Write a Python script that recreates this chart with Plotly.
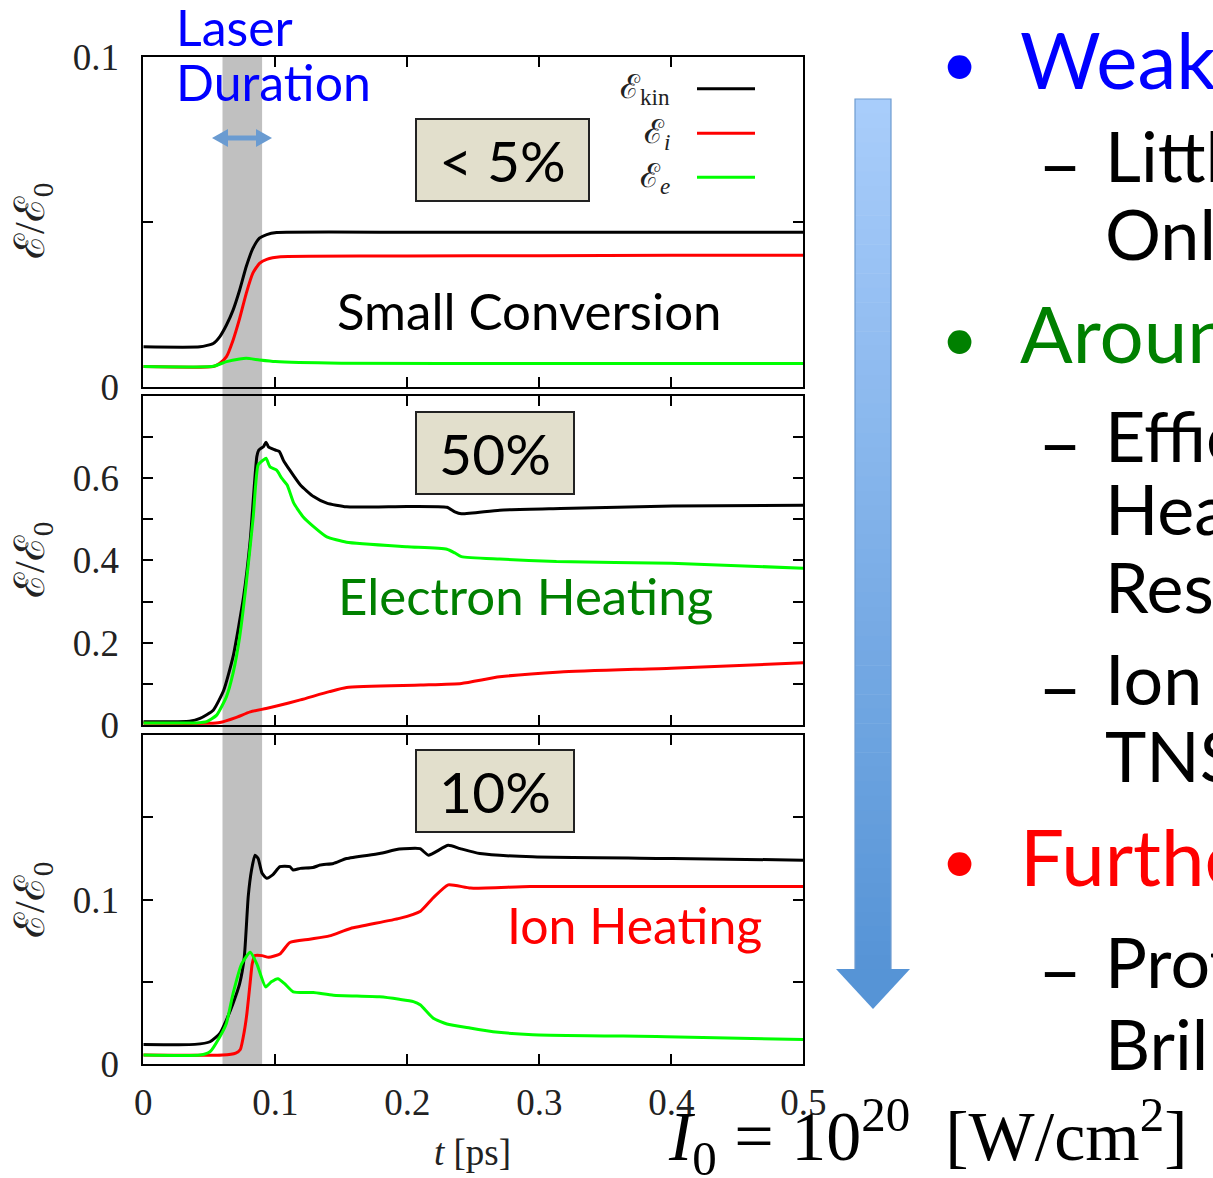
import plotly.graph_objects as go

W, H = 1213, 1178

# ---------------- data ----------------
x_ticks = [0, 0.1, 0.2, 0.3, 0.4, 0.5]
x_ticktext = ["0", "0.1", "0.2", "0.3", "0.4", "0.5"]
laser_window = [0.06, 0.09]

# top panel (weak, < 5%)
t_top_kin = [0, 0.043, 0.053, 0.058, 0.063, 0.068, 0.073, 0.078, 0.083, 0.088, 0.0935, 0.101, 0.2, 0.3, 0.4, 0.5]
top_kin = [0.0121, 0.0121, 0.0131, 0.0152, 0.0187, 0.0232, 0.0293, 0.0364, 0.0419, 0.0450, 0.0461, 0.0467, 0.0468, 0.0468, 0.0468, 0.0468]
t_top_i = [0, 0.053, 0.058, 0.063, 0.068, 0.073, 0.078, 0.083, 0.088, 0.0935, 0.104, 0.2, 0.3, 0.4, 0.5]
top_i = [0.0061, 0.0061, 0.0071, 0.0091, 0.0141, 0.0207, 0.0283, 0.0344, 0.0374, 0.0386, 0.0394, 0.0396, 0.0397, 0.0398, 0.0398]
t_top_e = [0, 0.053, 0.063, 0.073, 0.078, 0.088, 0.1, 0.15, 0.3, 0.5]
top_e = [0.0061, 0.0062, 0.0076, 0.0084, 0.0086, 0.0081, 0.0076, 0.0071, 0.0070, 0.0070]
top_yticks = [0, 0.1]
top_yticktext = ["0", "0.1"]
top_minor_dtick = 0.05

# middle panel (50%)
t_mid_kin = [0, 0.035, 0.043, 0.053, 0.061, 0.068, 0.076, 0.081, 0.086, 0.0875, 0.089, 0.091, 0.093, 0.095,
             0.097, 0.100, 0.103, 0.106, 0.111, 0.119, 0.129, 0.139, 0.154, 0.2, 0.23, 0.236, 0.241, 0.27,
             0.316, 0.401, 0.5]
mid_kin = [0.008, 0.009, 0.016, 0.036, 0.085, 0.166, 0.312, 0.449, 0.652, 0.668, 0.672, 0.676, 0.687, 0.675,
           0.672, 0.668, 0.665, 0.644, 0.619, 0.583, 0.555, 0.539, 0.530, 0.531, 0.529, 0.518, 0.513, 0.522,
           0.526, 0.532, 0.534]
t_mid_e = [0, 0.04, 0.048, 0.0556, 0.063, 0.068, 0.073, 0.078, 0.0833, 0.087, 0.091, 0.093, 0.096, 0.101,
           0.105, 0.109, 0.114, 0.121, 0.129, 0.139, 0.154, 0.2, 0.23, 0.236, 0.241, 0.27, 0.313, 0.4, 0.5]
mid_e = [0.005, 0.005, 0.008, 0.024, 0.069, 0.126, 0.214, 0.344, 0.506, 0.632, 0.644, 0.648, 0.627, 0.619,
         0.599, 0.583, 0.539, 0.506, 0.482, 0.457, 0.444, 0.433, 0.427, 0.418, 0.409, 0.403, 0.397, 0.393, 0.381]
t_mid_i = [0, 0.05, 0.058, 0.07, 0.081, 0.093, 0.101, 0.119, 0.141, 0.154, 0.21, 0.241, 0.27, 0.316, 0.4, 0.5]
mid_i = [0.004, 0.004, 0.006, 0.018, 0.032, 0.040, 0.046, 0.061, 0.081, 0.091, 0.097, 0.101, 0.117, 0.129, 0.138, 0.151]
mid_yticks = [0, 0.2, 0.4, 0.6]
mid_yticktext = ["0", "0.2", "0.4", "0.6"]
mid_minor_dtick = 0.1

# bottom panel (10%)
t_bot_kin = [0, 0.039, 0.0505, 0.058, 0.063, 0.068, 0.073, 0.0765, 0.0795, 0.082, 0.0846, 0.087, 0.09, 0.0935,
             0.098, 0.1035, 0.111, 0.1135, 0.119, 0.1285, 0.134, 0.144, 0.154, 0.179, 0.194, 0.2096, 0.216,
             0.231, 0.24, 0.255, 0.295, 0.401, 0.5]
bot_kin = [0.0121, 0.0121, 0.0137, 0.0188, 0.027, 0.037, 0.049, 0.065, 0.102, 0.118, 0.127, 0.125, 0.116, 0.113,
           0.115, 0.120, 0.120, 0.118, 0.119, 0.1195, 0.121, 0.122, 0.125, 0.128, 0.1307, 0.131, 0.127,
           0.133, 0.131, 0.128, 0.126, 0.125, 0.124]
t_bot_i = [0, 0.06, 0.07, 0.0735, 0.0765, 0.0785, 0.081, 0.0825, 0.0845, 0.09, 0.095, 0.1035, 0.111, 0.126,
           0.141, 0.157, 0.194, 0.21, 0.2195, 0.231, 0.248, 0.293, 0.4, 0.5]
bot_i = [0.0056, 0.0056, 0.0068, 0.009, 0.02, 0.031, 0.05, 0.061, 0.066, 0.066, 0.065, 0.067, 0.074, 0.076,
         0.078, 0.0825, 0.0886, 0.093, 0.101, 0.109, 0.107, 0.108, 0.108, 0.108]
t_bot_e = [0, 0.043, 0.0505, 0.058, 0.063, 0.068, 0.0745, 0.081, 0.086, 0.0927, 0.097, 0.102, 0.107, 0.1136,
           0.129, 0.144, 0.179, 0.194, 0.2046, 0.21, 0.2197, 0.23, 0.2475, 0.265, 0.295, 0.396, 0.5]
bot_e = [0.0056, 0.0056, 0.0076, 0.0168, 0.025, 0.043, 0.061, 0.068, 0.061, 0.047, 0.0501, 0.052, 0.049, 0.044,
         0.0436, 0.042, 0.041, 0.0395, 0.0381, 0.036, 0.028, 0.0245, 0.022, 0.0198, 0.018, 0.0168, 0.015]
bot_yticks = [0, 0.1]
bot_yticktext = ["0", "0.1"]
bot_minor_dtick = 0.05

series_names = ["ℰ<sub>kin</sub>", "ℰ<sub><i>i</i></sub>", "ℰ<sub><i>e</i></sub>"]
series_colors = ["#000000", "#ff0000", "#00ff00"]
panel_labels = ["< 5%", "50%", "10%"]
panel_notes = ["Small Conversion", "Electron Heating", "Ion Heating"]
panel_note_colors = ["#000000", "#008000", "#ff0000"]

bullets = [("Weak", "#0000ff"), ("Around", "#008000"), ("Further", "#ff0000")]
sub_items = [["Little", "Only"], ["Efficient", "Heating", "Rese"], ["Ion", "TNSA"], ["Proton", "Brillouin"]]

# ---------------- helpers ----------------
def PX(x):
    return x / W


def PY(y):
    return 1 - y / H


SANS = "Lato, 'Noto Sans', sans-serif"
SERIF = "'Liberation Serif', 'DejaVu Serif', serif"

fig = go.Figure()

panels = [
    ("x3", "y3", [(t_top_kin, top_kin), (t_top_i, top_i), (t_top_e, top_e)], [0, 0.1], top_yticks, top_yticktext,
     top_minor_dtick, [PY(386.7), PY(56.7)]),
    ("x2", "y2", [(t_mid_kin, mid_kin), (t_mid_i, mid_i), (t_mid_e, mid_e)], [0, 0.8], mid_yticks, mid_yticktext,
     mid_minor_dtick, [PY(725), PY(395.7)]),
    ("x", "y", [(t_bot_kin, bot_kin), (t_bot_i, bot_i), (t_bot_e, bot_e)], [0, 0.2], bot_yticks, bot_yticktext,
     bot_minor_dtick, [PY(1064.3), PY(735)]),
]

xdom = [PX(143.3), PX(803.3)]
tick_style = dict(ticks="inside", ticklen=10, tickwidth=1.5, tickcolor="black", showgrid=False)
axis_common = dict(showline=True, linecolor="black", linewidth=2, mirror="ticks", zeroline=False,
                   automargin=False, **tick_style)

shapes = []
for (xa, ya, series, yr, yt, ytt, mdt, ydom) in panels:
    for (tt, vv), name, col in zip(series, series_names, series_colors):
        fig.add_trace(go.Scatter(x=tt, y=vv, mode="lines", name=name, xaxis=xa, yaxis=ya, showlegend=False,
                                 line=dict(color=col, width=3, shape="spline", smoothing=0.5)))
    xkey = "xaxis" if xa == "x" else "xaxis" + xa[1:]
    ykey = "yaxis" if ya == "y" else "yaxis" + ya[1:]
    if xa == "x":
        fig.layout[xkey] = dict(axis_common, domain=xdom, anchor=ya, range=[0, 0.5], tickmode="array",
                                tickvals=x_ticks, ticktext=x_ticktext,
                                tickfont=dict(family=SERIF, size=37, color="#222"), ticklabelstandoff=4)
    else:
        # upper panels: tick marks only (drawn as minor ticks, no labels)
        fig.layout[xkey] = dict(axis_common, domain=xdom, anchor=ya, range=[0, 0.5], tickmode="array",
                                tickvals=[], showticklabels=False,
                                minor=dict(tickmode="array", tickvals=x_ticks, **tick_style))
    fig.layout[ykey] = dict(axis_common, domain=ydom, anchor=xa, range=yr, tickmode="array", tickvals=yt,
                            ticktext=ytt, minor=dict(dtick=mdt, tick0=0, **tick_style),
                            tickfont=dict(family=SERIF, size=37, color="#222"), ticklabelstandoff=15)

# laser duration band, continuous through all three panels
shapes.append(dict(type="rect", xref="x", yref="paper", x0=laser_window[0], x1=laser_window[1],
                   y0=PY(1064.3), y1=PY(56.7), fillcolor="#c0c0c0", line=dict(width=0), layer="below"))

annotations = []

# y-axis titles
for yc in [221, 560, 900]:
    annotations.append(dict(xref="paper", yref="paper", x=PX(33), y=PY(yc), text="ℰ/ℰ<sub>0</sub>",
                            textangle=-90, showarrow=False, xanchor="center", yanchor="middle",
                            font=dict(family=SERIF, size=42, color="#222")))
# x-axis title
annotations.append(dict(xref="paper", yref="paper", x=PX(472), y=PY(1152), text="<i>t</i> [ps]",
                        showarrow=False, xanchor="center", yanchor="middle",
                        font=dict(family=SERIF, size=37, color="#222")))

# manual legend (text left, line right)
for name, col, yl in zip(series_names, series_colors, [88.7, 133.3, 177.3]):
    annotations.append(dict(xref="paper", yref="paper", x=PX(672), y=PY(yl + 1), text=name, showarrow=False,
                            xanchor="right", yanchor="middle", font=dict(family=SERIF, size=33, color="#222")))
    shapes.append(dict(type="line", xref="paper", yref="paper", x0=PX(697), x1=PX(755), y0=PY(yl), y1=PY(yl),
                       line=dict(color=col, width=3)))

# percentage boxes
for lab, (cx, cy, bw) in zip(panel_labels, [(502.5, 160, 175), (495, 452.8, 160), (495, 791.3, 160)]):
    annotations.append(dict(xref="paper", yref="paper", x=PX(cx), y=PY(cy), text=lab, showarrow=False,
                            xanchor="center", yanchor="middle", width=bw - 4, height=80,
                            bgcolor="#e2dfcc", bordercolor="#222", borderwidth=2, borderpad=0,
                            font=dict(family=SANS, size=57, color="black")))

# panel notes
for note, col, (cx, cy), fs in zip(panel_notes, panel_note_colors,
                                   [(529.5, 310.5), (525, 595.5), (634.5, 924.5)], [51, 51, 50]):
    annotations.append(dict(xref="paper", yref="paper", x=PX(cx), y=PY(cy), text=note, showarrow=False,
                            xanchor="center", yanchor="middle", font=dict(family=SANS, size=fs, color=col)))

# laser duration label
annotations.append(dict(xref="paper", yref="paper", x=PX(174), y=PY(27), text="Laser", showarrow=False,
                        xanchor="left", yanchor="middle", font=dict(family=SANS, size=50, color="#0000ff")))
annotations.append(dict(xref="paper", yref="paper", x=PX(174), y=PY(82), text="Duration", showarrow=False,
                        xanchor="left", yanchor="middle", font=dict(family=SANS, size=50, color="#0000ff")))

# double arrow (decoration)
arrow_col = "#6a9bd1"
shapes.append(dict(type="line", xref="paper", yref="paper", x0=PX(222), x1=PX(262), y0=PY(138), y1=PY(138),
                   line=dict(color=arrow_col, width=5)))
shapes.append(dict(type="path", xref="paper", yref="paper",
                   path="M %f %f L %f %f L %f %f Z" % (PX(212), PY(138), PX(228), PY(129), PX(228), PY(147)),
                   fillcolor=arrow_col, line=dict(width=0)))
shapes.append(dict(type="path", xref="paper", yref="paper",
                   path="M %f %f L %f %f L %f %f Z" % (PX(272), PY(138), PX(256), PY(129), PX(256), PY(147)),
                   fillcolor=arrow_col, line=dict(width=0)))

# right-hand bullet text (clipped at the right edge like the slide)
bullet_y = [60, 334, 856.5]
for (txt, col), yc in zip(bullets, bullet_y):
    annotations.append(dict(xref="paper", yref="paper", x=PX(959), y=PY(yc + 2), text="•", showarrow=False,
                            xanchor="center", yanchor="middle", font=dict(family=SANS, size=64, color=col)))
    annotations.append(dict(xref="paper", yref="paper", x=PX(1018), y=PY(yc - 1), text=txt, showarrow=False,
                            xanchor="left", yanchor="middle", font=dict(family=SANS, size=78, color=col)))

sub_y = [[155, 233], [435, 508, 586], [678, 755], [961, 1043]]
for items, ys in zip(sub_items, sub_y):
    for k, (txt, yc) in enumerate(zip(items, ys)):
        if k == 0:
            annotations.append(dict(xref="paper", yref="paper", x=PX(1060), y=PY(yc + 6), text="–",
                                    showarrow=False, xanchor="center", yanchor="middle",
                                    font=dict(family=SANS, size=76, color="black")))
        annotations.append(dict(xref="paper", yref="paper", x=PX(1103), y=PY(yc), text=txt, showarrow=False,
                                xanchor="left", yanchor="middle", font=dict(family=SANS, size=70, color="black")))

# intensity equation
annotations.append(dict(xref="paper", yref="paper", x=PX(666), y=PY(1136), showarrow=False,
                        text="<i>I</i><sub>0</sub>&nbsp;=&nbsp;10<sup>20</sup>&nbsp;&nbsp;[W/cm<sup>2</sup>]",
                        xanchor="left", yanchor="middle", font=dict(family=SERIF, size=70, color="black")))

# big gradient arrow (decoration)
top_c, bot_c = (169, 205, 251), (86, 148, 214)
y_start, y_end, n = 99, 970, 60
for k in range(n):
    y0 = y_start + (y_end - y_start) * k / n
    y1 = y_start + (y_end - y_start) * (k + 1) / n + 0.6
    f = (k + 0.5) / n
    c = tuple(int(round(a + (b - a) * f)) for a, b in zip(top_c, bot_c))
    shapes.append(dict(type="rect", xref="paper", yref="paper", x0=PX(855), x1=PX(891), y0=PY(y1), y1=PY(y0),
                       fillcolor="rgb(%d,%d,%d)" % c, line=dict(width=0)))
shapes.append(dict(type="rect", xref="paper", yref="paper", x0=PX(855), x1=PX(891), y0=PY(970), y1=PY(99),
                   fillcolor="rgba(0,0,0,0)", line=dict(color="#6e9cd0", width=1.2)))
shapes.append(dict(type="path", xref="paper", yref="paper",
                   path="M %f %f L %f %f L %f %f Z" % (PX(836), PY(969), PX(910), PY(969), PX(873), PY(1009)),
                   fillcolor="rgb(86,148,214)", line=dict(width=0)))

fig.update_layout(width=W, height=H, autosize=False, margin=dict(l=0, r=0, t=0, b=0, pad=0),
                  paper_bgcolor="white", plot_bgcolor="white", showlegend=False,
                  shapes=shapes, annotations=annotations)

fig.write_html("out.html", config={"displayModeBar": False},
               post_script="document.body.style.margin='0';")
